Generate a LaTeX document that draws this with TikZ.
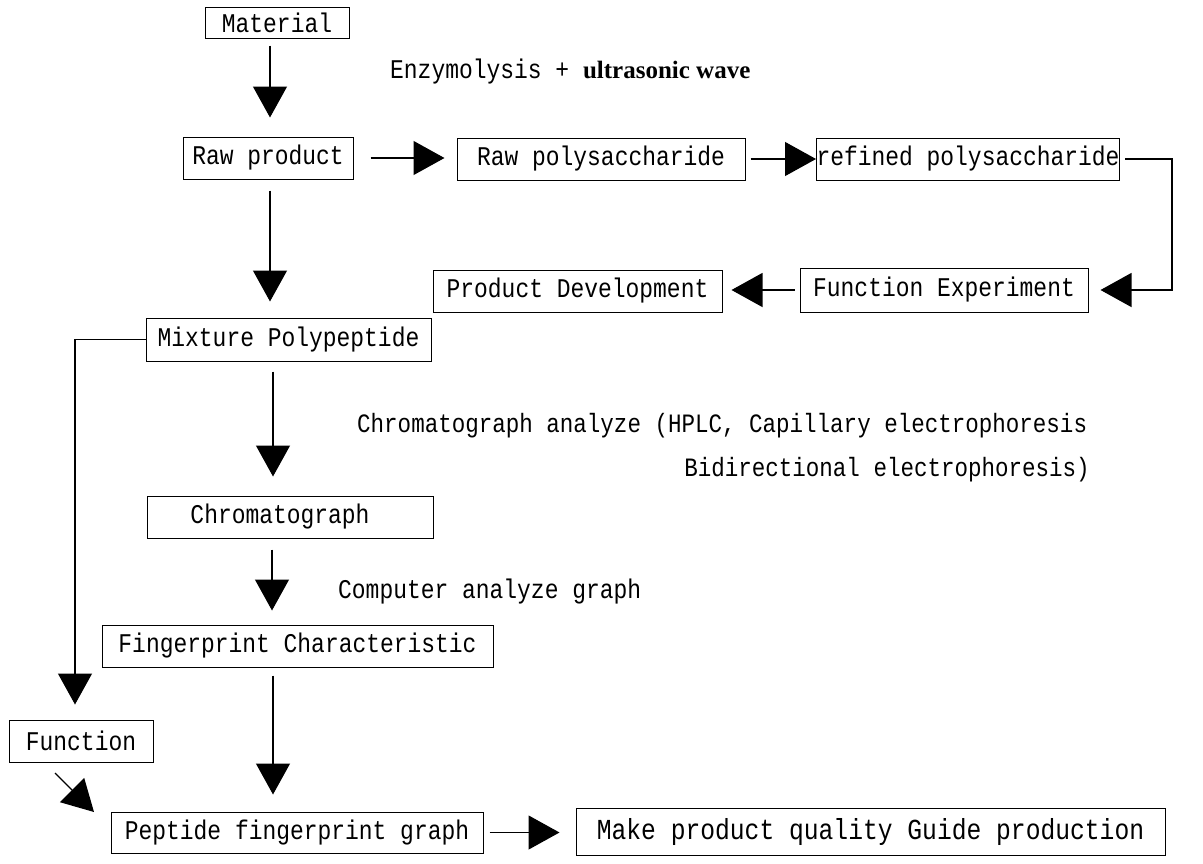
\documentclass[tikz,border=0pt]{standalone}
\usepackage{fontspec}
\setmainfont{Liberation Mono}[FakeStretch=0.85]
\newfontfamily\bserif{Liberation Serif}
\usetikzlibrary{arrows.meta}
\newcommand\mybox[7][]{%
  \node[box,#1,minimum width={#5-#3},minimum height={#6-#4}] (#2) at ({(#3+#5)/2},{(#4+#6)/2}) {#7};}
\begin{document}
\begin{tikzpicture}[x=1pt,y=-1pt,
  box/.style={draw,line width=1pt,inner sep=0pt,font=\fontsize{27}{27}\selectfont},
  lbl/.style={inner sep=0pt,font=\fontsize{27}{27}\selectfont},
  arr/.style={line width=1.2pt,-{Triangle[length=31pt,width=34pt]}}]
\useasboundingbox (0,0) rectangle (1203,863);
\fill[white] (0,0) rectangle (1203,863);

% boxes
\mybox{mat}{205}{7}{349}{38}{Material}
\mybox{raw}{183}{137}{353}{179}{Raw product}
\mybox{rawp}{457}{138}{745}{180}{Raw polysaccharide}
\mybox{ref}{818}{138}{1118}{180}{refined polysaccharide}
\mybox{fexp}{800}{268}{1088}{312}{Function Experiment}
\mybox{pdev}{433}{270}{722}{312}{Product Development}
\mybox{mix}{146}{318}{431}{361}{Mixture Polypeptide}
\mybox{chrom}{147}{496}{433}{538}{Chromatograph\hspace*{20pt}}
\mybox{fing}{102}{625}{493}{667}{Fingerprint Characteristic}
\mybox{func}{9}{720}{153}{762}{Function}
\mybox{pep}{111}{812}{483}{853}{Peptide fingerprint graph}
\mybox[font=\fontsize{29}{29}\selectfont]{make}{576}{808}{1165}{855}{Make product quality Guide production}

% labels
\node[lbl,anchor=west] (enz) at (390,72) {Enzymolysis + {\bserif\bfseries\fontsize{25}{25}\selectfont ultrasonic wave}};
\node[lbl,anchor=west,font=\fontsize{26.5}{26.5}\selectfont] (chr1) at (357,426) {Chromatograph analyze (HPLC, Capillary electrophoresis};
\node[lbl,anchor=east,font=\fontsize{26.5}{26.5}\selectfont] (chr2) at (1090,470) {Bidirectional electrophoresis)};
\node[lbl,anchor=west] (comp) at (338,592) {Computer analyze graph};

% column coordinates
\coordinate (ca) at (270,0);
\coordinate (cb) at (273,0);
\coordinate (cc) at (272,0);
\coordinate (cl) at (75,0);
\coordinate (cr) at (1172,0);
\coordinate (d1) at (55,773);
\coordinate (d2) at (94,812);

% vertical arrows
\draw[arr,shorten <=7pt,shorten >=19pt] (mat.south -| ca) -- (raw.north -| ca);
\draw[arr,shorten <=11pt,shorten >=16pt] (raw.south -| ca) -- (mix.north -| ca);
\draw[arr,shorten <=10pt,shorten >=19pt] (mix.south -| cb) -- (chrom.north -| cb);
\draw[arr,shorten <=11pt,shorten >=14pt] (chrom.south -| cc) -- (fing.north -| cc);
\draw[arr,shorten <=8pt,shorten >=17pt] (fing.south -| cb) -- (pep.north -| cb);

% horizontal arrows
\draw[arr,shorten <=17pt,shorten >=12pt] (raw.east) -- (rawp.west |- raw.east);
\draw[arr,shorten <=5pt] (rawp.east) -- (ref.west |- rawp.east);
\draw[arr,shorten <=5pt,shorten >=12pt] (ref.east) -- (ref.east -| cr) -- (fexp.east -| cr) -- (fexp.east);
\draw[arr,shorten <=5pt,shorten >=9pt] (fexp.west) -- (pdev.east |- fexp.west);
\draw[arr,shorten <=6pt,shorten >=16pt] (pep.east) -- (make.west |- pep.east);

% left branch
\draw[arr,shorten >=15pt] (mix.west) -- (mix.west -| cl) -- (func.north -| cl);
\draw[arr] (d1) -- (d2);
\end{tikzpicture}
\end{document}
